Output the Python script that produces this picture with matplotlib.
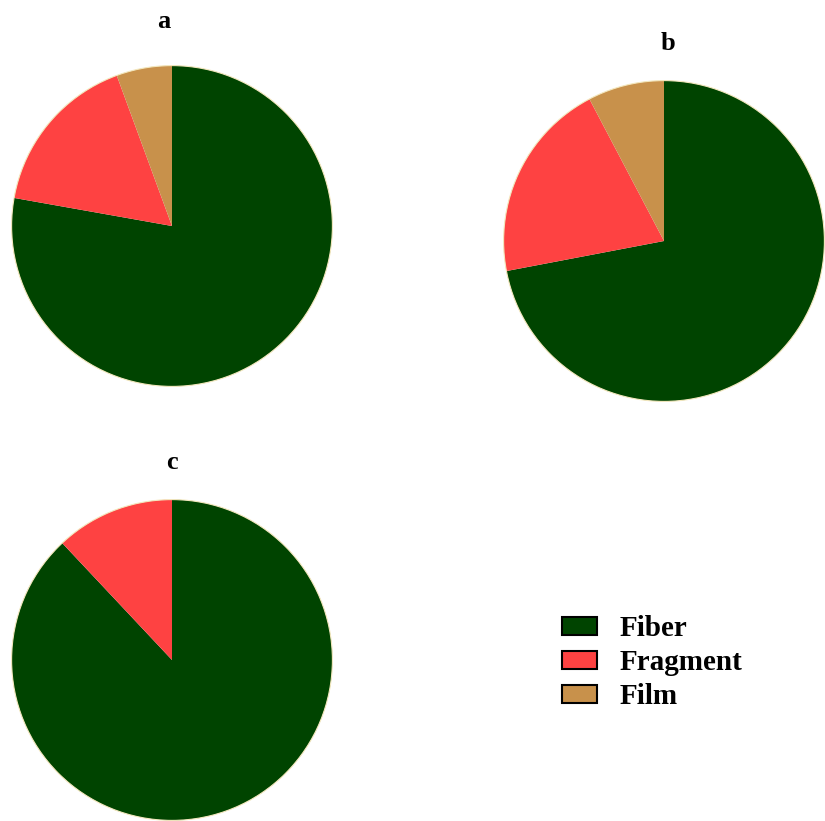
import matplotlib
matplotlib.use("Agg")
import matplotlib.pyplot as plt

# shares (%)
labels = ["Fiber", "Fragment", "Film"]
share_a = [77.8, 16.6, 5.6]
share_b = [72.0, 20.3, 7.7]
share_c = [88.0, 12.0, 0.0]
colors = ["#004400", "#fe4242", "#c8914b"]

W, H = 825, 821
fig = plt.figure(figsize=(W / 100, H / 100), dpi=100)
plt.rcParams['font.family'] = ['Liberation Serif', 'DejaVu Serif']

R = 162  # pie radius in pixels


def pie_axes(cx, cy):
    # axes placed so that the pie is centred at (cx, cy) in pixel coords from the top-left
    return fig.add_axes([(cx - R) / W, (H - cy - R) / H, 2 * R / W, 2 * R / H])


def draw_pie(ax, vals):
    ax.pie(vals, colors=colors, startangle=90, counterclock=False, radius=1,
           wedgeprops=dict(edgecolor="none"))
    circ = plt.Circle((0, 0), 1, fill=False, edgecolor="#f3e7bd", linewidth=0.8)
    ax.add_patch(circ)
    ax.set_xlim(-1.01, 1.01)
    ax.set_ylim(-1.01, 1.01)
    ax.set_aspect("equal")
    ax.axis("off")


ax_a = pie_axes(172, 226)
draw_pie(ax_a, share_a)
ax_b = pie_axes(664, 241)
draw_pie(ax_b, share_b)
ax_c = pie_axes(172, 660)
draw_pie(ax_c, share_c)

for letter, x, y in [("a", 164, 22), ("b", 668, 43), ("c", 172, 462)]:
    fig.text(x / W, 1 - y / H, letter, ha="center", va="center",
             fontsize=19, fontweight="bold")

handles = [plt.Rectangle((0, 0), 1, 1, facecolor=c, edgecolor="black", linewidth=1.5)
           for c in colors]
leg = fig.legend(handles, labels, loc="upper left",
                 bbox_to_anchor=(536 / W, 1 - 589 / H), frameon=False,
                 prop=dict(size=21, weight="bold"),
                 handlelength=1.2, handleheight=0.6, labelspacing=0.24,
                 handletextpad=0.75)

fig.savefig("out.png", dpi=100)
